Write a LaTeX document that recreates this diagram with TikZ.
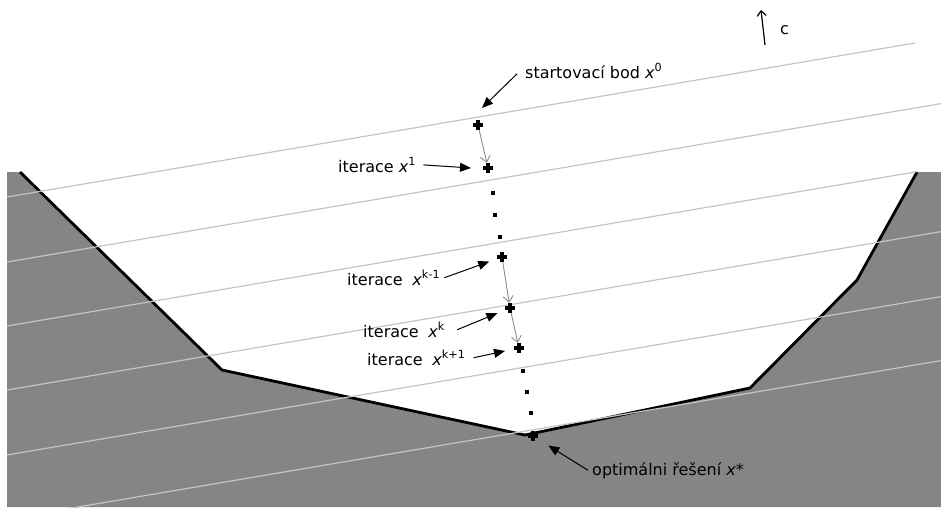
\documentclass[tikz,border=0pt]{standalone}
\usepackage{fontspec}
\setmainfont{DejaVu Sans}
\usetikzlibrary{arrows.meta}
\tikzset{
  pt/.style={inner sep=0pt, minimum size=10pt, path picture={\draw[line width=3.2pt] (path picture bounding box.north) -- (path picture bounding box.south) (path picture bounding box.west) -- (path picture bounding box.east);}},
  dot/.style={rectangle, fill=black, inner sep=0pt, minimum size=3.8pt},
  lbl/.style={anchor=base west, inner sep=0pt, font=\fontsize{16}{18}\selectfont},
  arr/.style={-{Triangle[length=11pt,width=9pt]}, line width=1pt},
  iter/.style={-{Straight Barb[length=6pt,width=10pt]}, draw=black!45, line width=0.9pt},
  level/.style={draw=black!23, line width=1.2pt},
  bound/.style={line width=2.8pt, line join=round},
  region/.style={fill=black!48}
}
\newcommand{\xv}[1]{\textit{x}\textsuperscript{#1}}

\begin{document}
\begin{tikzpicture}[x=1pt,y=-1pt]
\useasboundingbox (0,0) rectangle (941,509);

% feasible set
\fill[region] (7,172) -- (20,172) -- (222,370) -- (525,435) -- (750,388) -- (857,280) -- (917,172) -- (941,172) -- (941,507) -- (7,507) -- cycle;
\draw[bound] (20,172) -- (222,370) -- (525,435) -- (750,388) -- (857,280) -- (917,172);

% level lines of c^T x
\begin{scope}
\clip (0,0) rectangle (941,507);
\foreach \y/\e in {197/915, 262/941, 326/917, 390/941, 455/941, 519/941}
  \draw[level] (7,\y) -- (\e,{\y-0.1696*(\e-7)});
\end{scope}

% iterates
\node[pt] (x0) at (478,125) {};
\node[pt] (x1) at (488,168) {};
\node[pt] (xkm) at (502,257) {};
\node[pt] (xk) at (510,308) {};
\node[pt] (xkp) at (519,348) {};
\node[pt] (xopt) at (533,436) {};
\foreach \p [count=\i] in {(493,193),(495,215),(500,237),(523,371),(527,392),(531,413)}
  \node[dot] (d\i) at \p {};

\draw[iter] (x0) -- (x1);
\draw[iter] (xkm) -- (xk);
\draw[iter] (xk) -- (xkp);

% labels
\node[lbl] (s0) at (525,78) {startovací bod \xv{0}};
\node[lbl] (s1) at (338,172) {iterace \xv{1}};
\node[lbl] (s2) at (347,285) {iterace\hspace{0.6em}\xv{k-1}};
\node[lbl] (s3) at (363,337) {iterace\hspace{0.6em}\xv{k}};
\node[lbl] (s4) at (367,365) {iterace\hspace{0.6em}\xv{k+1}};
\node[lbl] (s5) at (592,475) {optimálni řešení \textit{x}*};

\draw[arr] ([xshift=-8pt,yshift=-3pt]s0.west) -- ([xshift=4pt,yshift=17pt]x0.center);
\draw[arr] ([xshift=7pt]s1.east) -- ([xshift=-17pt]x1.center);
\draw[arr, shorten >=8pt] ([xshift=4pt]s2.east) -- (xkm);
\draw[arr, shorten >=8pt] ([xshift=12pt]s3.east) -- (xk);
\draw[arr, shorten >=9pt] ([xshift=8pt]s4.east) -- (xkp);
\draw[arr, shorten >=12pt] ([xshift=-4pt]s5.west) -- (xopt);

% direction c
\coordinate (c0) at (765,45);
\coordinate (c1) at (761,10);
\draw[-{Straight Barb[length=5pt,width=9pt]}, line width=1.2pt] (c0) -- (c1);
\node[lbl] (cl) at (780,34) {c};
\end{tikzpicture}
\end{document}
